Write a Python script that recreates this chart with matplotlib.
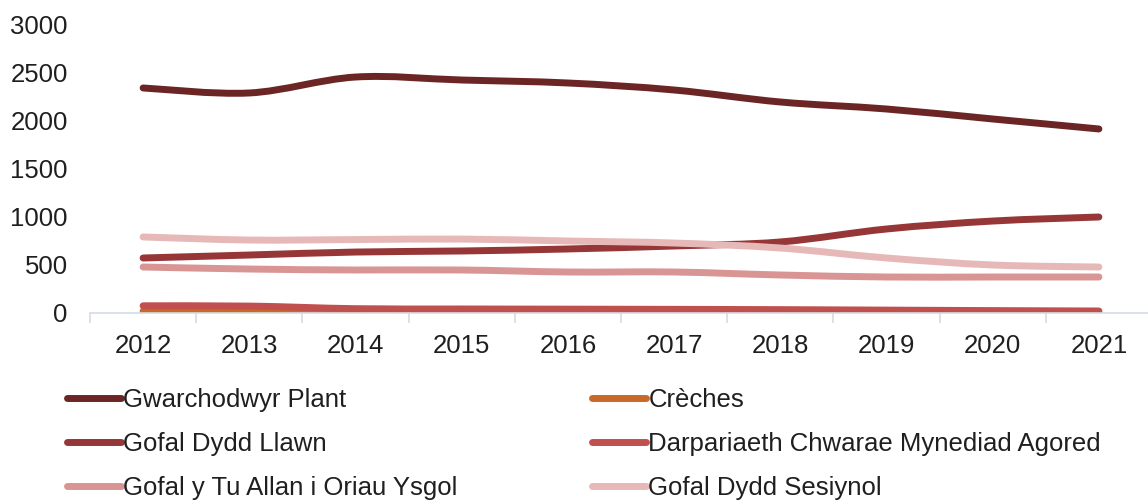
import numpy as np
import matplotlib.pyplot as plt
from matplotlib.path import Path
from matplotlib.patches import PathPatch
from matplotlib.lines import Line2D

plt.rcParams['font.family'] = ['Liberation Sans', 'DejaVu Sans']

# Data
years = ['2012', '2013', '2014', '2015', '2016', '2017', '2018', '2019', '2020', '2021']
gwarchodwyr = [2344, 2292, 2458, 2427, 2396, 2323, 2198, 2125, 2021, 1917]
creches = [20, 18, 15, 12, 10, 10, 8, 8, 6, 5]
llawn = [573, 604, 635, 646, 667, 698, 740, 875, 958, 1000]
darpariaeth = [75, 72, 45, 42, 40, 38, 35, 30, 25, 21]
tu_allan = [479, 458, 448, 448, 427, 427, 396, 375, 375, 375]
sesiynol = [792, 760, 765, 770, 750, 729, 677, 573, 500, 479]

names = ['Gwarchodwyr Plant', 'Crèches', 'Gofal Dydd Llawn',
         'Darpariaeth Chwarae Mynediad Agored',
         'Gofal y Tu Allan i Oriau Ysgol', 'Gofal Dydd Sesiynol']
series = [gwarchodwyr, creches, llawn, darpariaeth, tu_allan, sesiynol]
colors = ['#6B2525', '#C8692A', '#963636', '#C0504D', '#D99594', '#E6B9B8']

lw = 5.0


def smooth_path(x, y):
    # Excel-style smoothed line: cubic Bezier through the points
    pts = np.column_stack([x, y]).astype(float)
    verts = [pts[0]]
    codes = [Path.MOVETO]
    n = len(pts)
    for i in range(n - 1):
        p0 = pts[max(i - 1, 0)]
        p1 = pts[i]
        p2 = pts[i + 1]
        p3 = pts[min(i + 2, n - 1)]
        c1 = p1 + (p2 - p0) / 6
        c2 = p2 - (p3 - p1) / 6
        verts += [c1, c2, p2]
        codes += [Path.CURVE4] * 3
    return Path(verts, codes)


fig = plt.figure(figsize=(11.48, 5.01), dpi=100)
ax = fig.add_axes([90 / 1148, (501 - 313) / 501, 1062 / 1148, 288 / 501])

x = np.arange(len(years))
for vals, c in zip(series, colors):
    patch = PathPatch(smooth_path(x, vals), facecolor='none', edgecolor=c,
                      lw=lw, capstyle='round', joinstyle='round')
    ax.add_patch(patch)

ax.set_xlim(-0.5, len(years) - 0.5)
ax.set_ylim(0, 3000)
ax.set_yticks(np.arange(0, 3001, 500))
ax.set_xticks(x)
ax.set_xticklabels(years)
ax.set_xticks(np.arange(-0.5, len(years)), minor=True)

for s in ['top', 'right', 'left']:
    ax.spines[s].set_visible(False)
ax.spines['bottom'].set_color('#D6DCE5')
ax.spines['bottom'].set_linewidth(1.2)

ax.tick_params(axis='x', which='major', length=0, pad=15, labelsize=18.5,
               labelcolor='#1F1F1F')
ax.tick_params(axis='x', which='minor', length=7, width=1.2, color='#D6DCE5')
ax.tick_params(axis='y', length=0, pad=16, labelsize=18.5, labelcolor='#1F1F1F')

handles = [Line2D([], [], color=c, lw=lw, solid_capstyle='round') for c in colors]

leg_kw = dict(frameon=False, fontsize=18.5, handlelength=2.1, handletextpad=0.1,
              labelspacing=0.78, borderpad=0, loc='upper left')
leg1 = fig.legend([handles[0], handles[2], handles[4]],
                  [names[0], names[2], names[4]],
                  bbox_to_anchor=(54 / 1148, 1 - 375 / 501), **leg_kw)
leg2 = fig.legend([handles[1], handles[3], handles[5]],
                  [names[1], names[3], names[5]],
                  bbox_to_anchor=(579 / 1148, 1 - 375 / 501), **leg_kw)
for leg in (leg1, leg2):
    for t in leg.get_texts():
        t.set_color('#1F1F1F')

fig.savefig('out.png', dpi=100)
